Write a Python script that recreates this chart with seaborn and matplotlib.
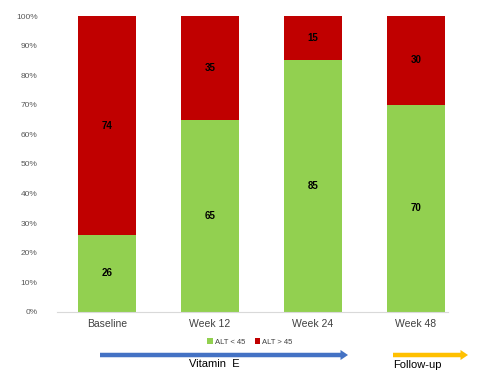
import seaborn as sns
import matplotlib.pyplot as plt
import pandas as pd
from matplotlib.patches import FancyArrow
from matplotlib.ticker import PercentFormatter

visits = ["Baseline", "Week 12", "Week 24", "Week 48"]
alt_low = [26, 65, 85, 70]
alt_high = [74, 35, 15, 30]

green = "#92D050"
red = "#C00000"

df = pd.DataFrame({"visit": visits, "low": alt_low, "high": alt_high})
df["total"] = df["low"] + df["high"]

sns.set_style("white")
plt.rcParams['font.family'] = ['Liberation Sans', 'DejaVu Sans']

fig = plt.figure(figsize=(5, 3.74), dpi=100)
ax = fig.add_axes([0.114, 0.166, 0.782, 0.791])

sns.barplot(data=df, x="visit", y="total", color=red, width=0.57,
            saturation=1, ax=ax, label="ALT > 45", linewidth=0)
sns.barplot(data=df, x="visit", y="low", color=green, width=0.57,
            saturation=1, ax=ax, label="ALT < 45", linewidth=0)
handles, labels = ax.get_legend_handles_labels()
if ax.legend_ is not None:
    ax.legend_.remove()

for i, row in df.iterrows():
    ax.text(i, row["low"] / 2, str(row["low"]), ha="center", va="center",
            fontsize=7, fontweight="bold", color="black")
    ax.text(i, row["low"] + row["high"] / 2, str(row["high"]), ha="center",
            va="center", fontsize=7, fontweight="bold", color="black")

ax.set_xlim(-0.485, 3.31)
ax.set_ylim(0, 100)
ax.set_yticks(range(0, 101, 10))
ax.yaxis.set_major_formatter(PercentFormatter(decimals=0))
ax.tick_params(axis="y", labelsize=6, colors="#595959", length=0, pad=14)
ax.tick_params(axis="x", labelsize=7.5, colors="#404040", length=0, pad=5)
ax.set_xlabel("")
ax.set_ylabel("")
for s in ["top", "right", "left"]:
    ax.spines[s].set_visible(False)
ax.spines["bottom"].set_color("#d9d9d9")
ax.spines["bottom"].set_linewidth(0.8)

order = [labels.index("ALT < 45"), labels.index("ALT > 45")]
fig.legend([handles[k] for k in order], [labels[k] for k in order],
           loc="center", bbox_to_anchor=(0.5, 1 - 342 / 374), ncol=2,
           frameon=False, fontsize=5.5, handlelength=0.7, handleheight=0.7,
           handletextpad=0.3, columnspacing=1.2, labelcolor="#404040")

# treatment-period arrows under the axis
arrow_kw = dict(width=0.012, head_width=0.027, head_length=0.015,
                length_includes_head=True, linewidth=0,
                transform=fig.transFigure, figure=fig)
fig.patches.append(FancyArrow(100 / 500, 1 - 355 / 374, 248 / 500, 0,
                              color="#4472C4", **arrow_kw))
fig.patches.append(FancyArrow(393 / 500, 1 - 355 / 374, 75 / 500, 0,
                              color="#FFC000", **arrow_kw))
fig.text(214 / 500, 1 - 364 / 374, "Vitamin  E", ha="center", va="center",
         fontsize=8, color="black")
fig.text(393 / 500, 1 - 365 / 374, "Follow-up", ha="left", va="center",
         fontsize=8, color="black")

fig.savefig("out.png", dpi=100)
